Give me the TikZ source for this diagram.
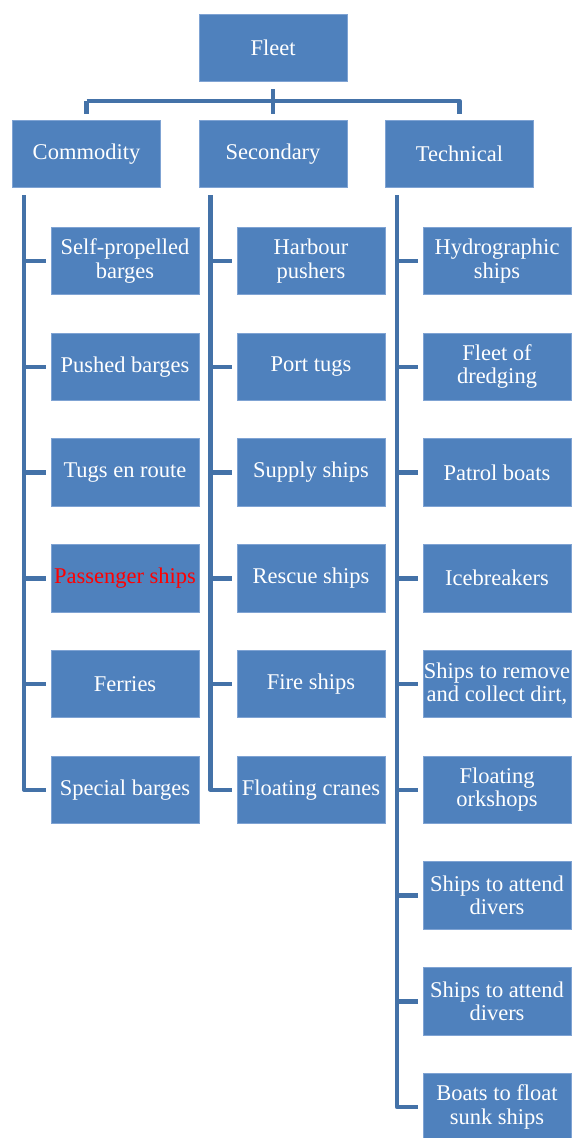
\documentclass[tikz,border=0pt]{standalone}
\usepackage{fontspec}
\newfontfamily\boxfont{Liberation Serif}
\usetikzlibrary{calc}

\definecolor{boxblue}{HTML}{4F81BD}
\definecolor{boxedge}{HTML}{7FA3D3}
\definecolor{linkblue}{HTML}{4472A8}

\begin{document}
\begin{tikzpicture}[x=1pt, y=-1pt,
  box/.style  = { fill=boxblue, draw=boxedge, line width=0.8pt, text=white,
                  minimum width=148pt, minimum height=67.5pt, inner xsep=0pt,
                  align=center, font=\boxfont\fontsize{22.5}{23.5}\selectfont },
  link/.style = { draw=linkblue, line width=4.5pt, line join=round }]
  \useasboundingbox (0,0) rectangle (574,1138);

  \node [box] (fleet) at (273,48) {Fleet};
  \foreach \name/\txt/\x in {comm/Commodity/86.5, sec/Secondary/273, tech/Technical/459.5}
    \node [box] (\name) at (\x,154) {\txt};

  \foreach \txt [count=\i] in {{Self-propelled\\barges}, Pushed barges, Tugs en route,
      {\textcolor{red}{Passenger ships}}, Ferries, Special barges}
    \node [box] (comm-\i) at (125,155.25+105.75*\i) {\txt};
  \foreach \txt [count=\i] in {{Harbour\\pushers}, Port tugs, Supply ships,
      Rescue ships, Fire ships, Floating cranes}
    \node [box] (sec-\i) at (311,155.25+105.75*\i) {\txt};
  \foreach \txt [count=\i] in {{Hydrographic\\ships}, {Fleet of\\dredging}, Patrol boats,
      Icebreakers, {Ships to remove\\and collect dirt,}, {Floating\\orkshops},
      {Ships to attend\\divers}, {Ships to attend\\divers}, {Boats to float\\sunk ships}}
    \node [box] (tech-\i) at (497,155.25+105.75*\i) {\txt};

  % top level
  \coordinate (bar) at ($(fleet.south)!0.5!(sec.north)$);
  \path [link, shorten <=7pt, shorten >=6pt] (fleet.south) -- (sec.north);
  \path [link, shorten >=6pt] (bar -| comm.north) -- (bar -| tech.north) -- (tech.north);
  \path [link, shorten >=6pt] (bar -| comm.north) -- (comm.north);

  % trunks and ticks
  \foreach \name/\n in {comm/6, sec/6, tech/9} {
    \coordinate (\name-trunk) at ([shift={(12pt,-7pt)}]\name.south west);
    \path [link] (\name-trunk) |- ([xshift=-5pt]\name-\n.west);
    \foreach \i in {1,...,\n}
      \path [link] (\name-trunk |- \name-\i.west) -- ([xshift=-5pt]\name-\i.west);
  }
\end{tikzpicture}
\end{document}
